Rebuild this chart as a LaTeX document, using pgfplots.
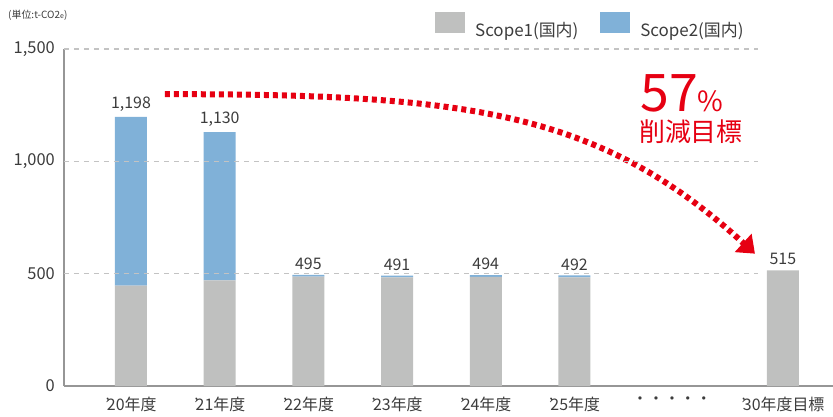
\documentclass[border=0pt]{standalone}
\usepackage{fontspec}
\setmainfont{Noto Sans CJK JP}
\usepackage{pgfplots}
\usepackage{pgfplotstable}
\pgfplotsset{compat=1.18}
\usetikzlibrary{arrows.meta}
\definecolor{s1}{RGB}{191,192,191}
\definecolor{s2}{RGB}{128,177,216}
\definecolor{axgray}{RGB}{150,150,150}
\definecolor{gridgray}{RGB}{195,195,195}
\definecolor{txt}{RGB}{60,60,60}
\definecolor{red57}{RGB}{230,0,18}
\newcommand{\ap}{’\kern-0.18em}

\pgfplotstableread{
x s1 s2 tot lab
0 447 751 1198 1,198
1 470 660 1130 1,130
2 487 8 495 495
3 483 8 491 491
4 486 8 494 494
5 484 8 492 492
7.35 515 0 515 515
}\datatable

\pgfplotsset{common/.style={
  scale only axis, width=769bp, height=337bp,
  xmin=-0.755, xmax=7.915, ymin=0, ymax=1500}}

\begin{document}
\begin{tikzpicture}
\begin{axis}[
  name=ax, common,
  ybar stacked, bar width=32bp,
  axis x line*=bottom, axis y line*=left,
  axis line style={axgray, line width=1.8bp, -},
  major tick length=0pt,
  xtick={0,1,2,3,4,5,6.1,7.35},
  xticklabels={\ap20年度,\ap21年度,\ap22年度,\ap23年度,\ap24年度,\ap25年度,・・・・・,\ap30年度目標},
  xticklabel style={font=\fontsize{16}{18}\selectfont, text=txt, anchor=north, inner sep=0pt, yshift=-11bp},
  ytick={0,500,1000,1500},
  /pgf/number format/1000 sep={,},
  /pgf/number format/assume math mode=true,
  yticklabel style={font=\fontsize{16.5}{18}\selectfont, text=txt, anchor=east, inner sep=0pt, xshift=-9bp},
  clip=false,
  legend style={at={(0.4824,1.1098)}, anchor=north west, draw=none, fill=none, inner sep=0pt,
    font=\fontsize{17}{20}\selectfont, text=txt,
    /tikz/every odd column/.append style={column sep=8bp},
    /tikz/every even column/.append style={column sep=20bp}},
  legend columns=2,
  legend cell align=left,
  legend image code/.code={\fill[#1] (0bp,-3bp) rectangle (30bp,18bp);},
]
\draw[gridgray, line width=1.2bp, dash pattern=on 5bp off 5bp] (axis cs:-0.755,500) -- (axis cs:7.07,500);
\draw[gridgray, line width=1.2bp, dash pattern=on 5bp off 5bp] (axis cs:-0.755,1000) -- (axis cs:7.07,1000);
\draw[gridgray, line width=1.2bp, dash pattern=on 5bp off 5bp] (axis cs:-0.755,1500) -- (axis cs:7.07,1500);
\addplot[fill=s1, draw=none] table[x=x, y=s1] \datatable;
\addplot[fill=s2, draw=none] table[x=x, y=s2] \datatable;
\legend{Scope1(国内),Scope2(国内)}
\draw[red57, line width=6bp, dash pattern=on 5bp off 4bp, -{Triangle[length=16bp,width=24bp]}]
  (axis cs:0.383,1299) .. controls (axis cs:3.766,1299) and (axis cs:5.265,1228) .. (axis cs:7.035,589);
\node[anchor=base west, inner sep=0pt, text=red57] at (axis cs:5.74,1223)
  {\fontsize{52}{52}\selectfont 57\fontsize{28}{28}\selectfont\%};
\node[anchor=center, inner sep=0pt, text=red57] at (axis cs:6.313,1132)
  {\fontsize{26}{28}\selectfont 削減目標};
\end{axis}
\begin{axis}[common, hide axis, clip=false]
\addplot[draw=none, mark=none, nodes near coords, point meta=explicit symbolic,
  nodes near coords style={font=\fontsize{16}{18}\selectfont, text=txt, anchor=south, inner sep=0pt, yshift=5bp}]
  table[x=x, y=tot, meta=lab] \datatable;
\end{axis}
\node[anchor=west, inner sep=0pt, text=txt] at ([shift={(-56bp,34bp)}]ax.north west)
  {\fontsize{10}{12}\selectfont (単位:t-CO2{\fontsize{7}{7}\selectfont e})};
\pgfresetboundingbox
\useasboundingbox ([shift={(-64bp,-31bp)}]ax.south west) rectangle ([shift={(0bp,49bp)}]ax.north east);
\end{tikzpicture}
\end{document}
